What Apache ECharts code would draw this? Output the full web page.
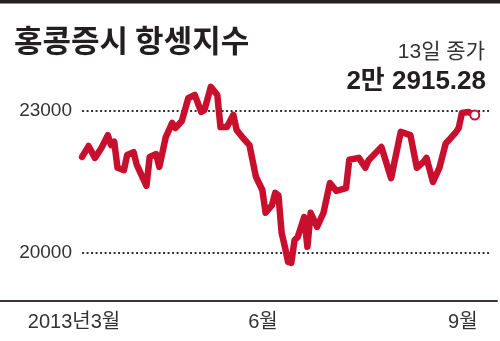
<!DOCTYPE html>
<html>
<head>
<meta charset="utf-8">
<script src="https://cdn.jsdelivr.net/npm/echarts@6/dist/echarts.min.js"></script>
<style>
html,body{margin:0;padding:0;background:#fff;}
#c{width:500px;height:341px;}
</style>
</head>
<body>
<div id="c"></div>
<script>
// trading-day index (from first point) and Hang Seng index close
var days = [0,2,4,6,8,9,10,11,13,14,16,17,20,21,23,24,26,28,29,31,33,35,37,38,40,42,43,45,47,48,50,52,54,56,57,59,60,61,62,63,64,65,66,67,69,70,71,73,75,77,79,82,83,86,88,89,93,96,99,102,104,106,107,109,111,113,114,116,117,118,120,122];
var values = [22030,22260,22010,22220,22490,22280,22350,21800,21750,22070,22130,21860,21420,22030,22090,21820,22450,22750,22640,22790,23270,23340,22980,23020,23510,23340,22660,22660,22920,22600,22430,22280,21610,21330,20850,21010,21270,21220,20420,20130,19810,19790,20270,20340,20760,20130,20850,20550,20850,21480,21310,21370,21970,22010,21800,21960,22240,21580,22560,22490,21800,21920,22010,21500,21800,22320,22390,22540,22640,22960,22980,22915.28];
var gridValues = [20000, 23000];
var yTickLabels = ['20000', '23000'];
var xTickPositions = [-2.5, 56.2, 118.3];
var xTickLabels = ['2013년3월', '6월', '9월'];
var titleText = '홍콩증시 항셍지수';
var subText = '13일 종가';
var closeText = '2만 2915.28';

var RED = '#c8102e';
var INK = '#231f20';
var X_MIN = -25.5, X_MAX = 128.9, LINE_END = 126.7;
var NUM_FONT = '"Liberation Sans", "Noto Sans CJK KR"';

var lineData = days.map(function (d, i) { return [d, values[i]]; });
var last = lineData[lineData.length - 1];

var chart = echarts.init(document.getElementById('c'), null, {renderer: 'canvas'});
chart.setOption({
  animation: false,
  backgroundColor: '#fff',
  graphic: [{
    type: 'rect', left: 0, top: 0, shape: {width: 500, height: 3.5},
    style: {fill: INK}, silent: true
  }],
  title: [{
    text: titleText, left: 9, top: 20,
    textStyle: {fontFamily: 'Noto Sans CJK KR', fontWeight: 'bold', fontSize: 31, color: INK}
  }, {
    text: subText, right: 10, top: 36.5,
    textStyle: {fontFamily: NUM_FONT, fontWeight: 'normal', fontSize: 21, color: '#333'}
  }, {
    text: closeText, right: 9, top: 63.5,
    textStyle: {fontFamily: NUM_FONT, fontWeight: 'bold', fontSize: 26, color: INK}
  }],
  grid: {left: 0, right: 3, top: 63.7, bottom: 40.7, containLabel: false},
  xAxis: {
    type: 'value', min: X_MIN, max: X_MAX,
    axisLine: {show: true, onZero: false, lineStyle: {color: '#3b3333', width: 2}},
    axisTick: {show: false},
    splitLine: {show: false},
    axisLabel: {
      customValues: xTickPositions,
      margin: 12,
      fontFamily: NUM_FONT,
      fontSize: 20, color: '#333',
      formatter: function (v) {
        for (var i = 0; i < xTickPositions.length; i++) {
          if (Math.abs(xTickPositions[i] - v) < 1e-6) return xTickLabels[i];
        }
        return '';
      }
    }
  },
  yAxis: {
    type: 'value', min: 19000, max: 24000, offset: -82,
    axisLine: {show: false}, axisTick: {show: false}, splitLine: {show: false},
    axisLabel: {
      customValues: gridValues,
      margin: 10,
      fontFamily: NUM_FONT,
      fontSize: 19, color: '#333',
      formatter: function (v) {
        var i = gridValues.indexOf(v);
        return i >= 0 ? yTickLabels[i] : '';
      }
    }
  },
  series: [{
    type: 'line',
    data: lineData,
    showSymbol: false,
    symbol: 'none',
    lineStyle: {color: RED, width: 6.5, join: 'round', cap: 'round'},
    z: 3,
    markLine: {
      silent: true, symbol: 'none', label: {show: false},
      lineStyle: {color: '#333', width: 2, type: [2, 2.5]},
      data: gridValues.map(function (g) {
        return [{coord: [0, g]}, {coord: [LINE_END, g]}];
      }),
      z: 1
    }
  }, {
    type: 'scatter',
    data: [last],
    symbol: 'circle', symbolSize: 9,
    itemStyle: {color: '#fff', borderColor: RED, borderWidth: 2, opacity: 1},
    z: 5
  }]
});
</script>
</body>
</html>
